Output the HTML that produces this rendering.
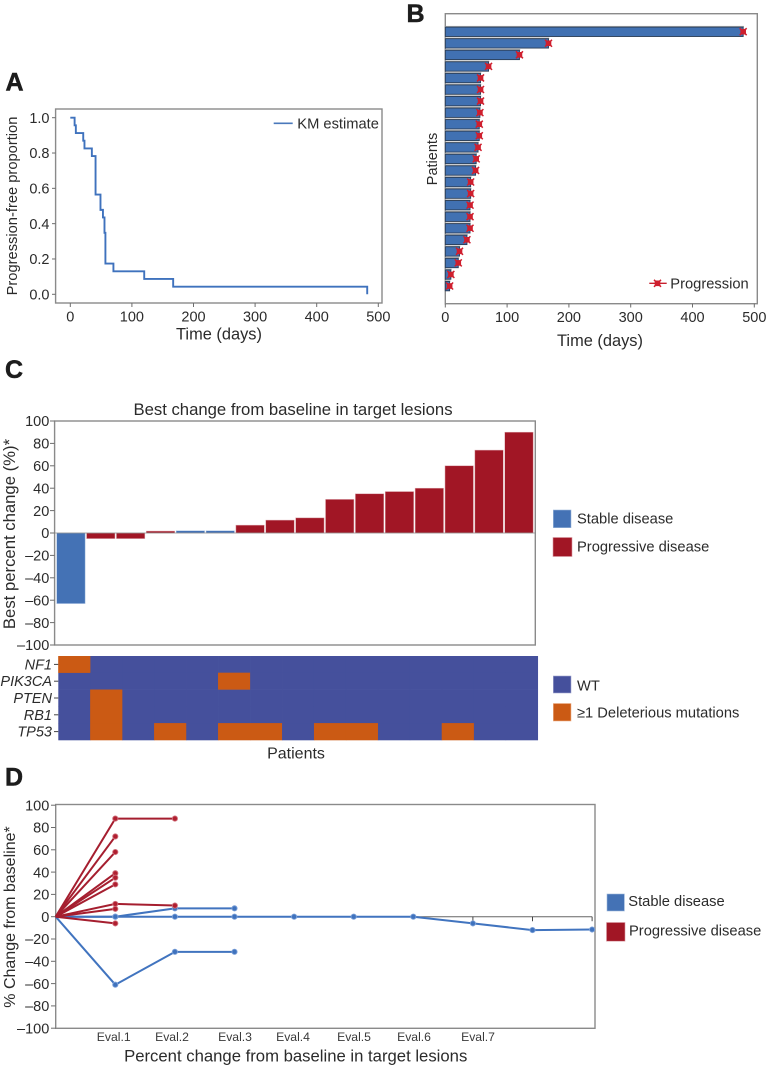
<!DOCTYPE html>
<html lang="en">
<head>
<meta charset="utf-8">
<title>Clinical outcome figure</title>
<style>
html,body{margin:0;padding:0;background:#fff;}
svg{display:block;}
text{font-family:"Liberation Sans",Arial,sans-serif;fill:#2b2b2b;font-size:14.7px;}
.tick{font-size:14.5px;}
.letter{font-size:25px;font-weight:bold;fill:#1c1c1c;stroke:#1c1c1c;stroke-width:.5px;}
.evl{font-size:12.2px;text-anchor:middle;fill:#3a3a3a;}
.frame{fill:none;stroke:#8a8a8a;stroke-width:1.4;}
</style>
</head>
<body>
<svg id="fig" xmlns="http://www.w3.org/2000/svg" width="766" height="1066" viewBox="0 0 766 1066">
  <text class="letter" x="5.5" y="90.7">A</text>
  <text class="letter" x="406.5" y="22">B</text>
  <text class="letter" x="5" y="378">C</text>
  <text class="letter" x="5" y="785.7">D</text>

  <!-- Panel A -->
  <rect class="frame" x="55.6" y="109" width="326.4" height="194"/>
  <g id="a-axes"></g>
  <g id="a-series"></g>
  <text x="219" y="339.5" text-anchor="middle" style="font-size:16.4px">Time (days)</text>
  <text transform="translate(17 206) rotate(-90)" text-anchor="middle">Progression-free proportion</text>
  <line x1="273.7" x2="292.7" y1="123.3" y2="123.3" stroke="#4a78bb" stroke-width="1.6"/>
  <text x="297.3" y="128.3">KM estimate</text>

  <!-- Panel B -->
  <rect class="frame" x="445.3" y="13.7" width="312" height="290"/>
  <g id="b-axes"></g>
  <g id="b-series"></g>
  <text x="600" y="346" text-anchor="middle" style="font-size:16.4px">Time (days)</text>
  <text transform="translate(437 159) rotate(-90)" text-anchor="middle" style="font-size:14.5px">Patients</text>
  <line x1="649.3" x2="666.7" y1="283.3" y2="283.3" stroke="#c8202e" stroke-width="1.3"/>
  <g id="b-legend-marker"></g>
  <text x="670.3" y="288.5">Progression</text>

  <!-- Panel C -->
  <text x="293" y="415" text-anchor="middle" style="font-size:16.7px">Best change from baseline in target lesions</text>
  <g id="c-series"></g>
  <rect class="frame" x="54.6" y="421" width="480.7" height="224"/>
  <g id="c-axes"></g>
  <text transform="translate(15 534) rotate(-90)" text-anchor="middle" style="font-size:16.7px">Best percent change (%)*</text>
  <rect x="553.3" y="510" width="17.7" height="17.7" fill="#4472b5" stroke="#9db8dc" stroke-width=".6"/>
  <text x="577" y="523.3">Stable disease</text>
  <rect x="553" y="537.5" width="19" height="19" fill="#a11625" stroke="#d99aa2" stroke-width=".6"/>
  <text x="577" y="551.7">Progressive disease</text>

  <!-- Heatmap -->
  <g id="h-cells"></g>
  <text x="296" y="758.5" text-anchor="middle" style="font-size:16px">Patients</text>
  <rect x="553.3" y="676" width="17.7" height="17" fill="#45509c" stroke="#a3a8d0" stroke-width=".6"/>
  <text x="577" y="690.7">WT</text>
  <rect x="553.3" y="703.5" width="17.7" height="17.5" fill="#cb5a14" stroke="#eeb48e" stroke-width=".6"/>
  <text x="577" y="717.7">≥1 Deleterious mutations</text>

  <!-- Panel D -->
  <rect class="frame" x="55.7" y="804.5" width="539.3" height="223.8"/>
  <g id="d-axes"></g>
  <g id="d-series"></g>
  <text class="evl" x="113.7" y="1041">Eval.1</text>
  <text class="evl" x="172" y="1041">Eval.2</text>
  <text class="evl" x="235" y="1041">Eval.3</text>
  <text class="evl" x="293" y="1041">Eval.4</text>
  <text class="evl" x="354" y="1041">Eval.5</text>
  <text class="evl" x="414" y="1041">Eval.6</text>
  <text class="evl" x="478" y="1041">Eval.7</text>
  <text x="295.7" y="1061.5" text-anchor="middle" style="font-size:16.7px">Percent change from baseline in target lesions</text>
  <text transform="translate(15 917) rotate(-90)" text-anchor="middle" style="font-size:16px">% Change from baseline*</text>
  <rect x="607" y="894" width="17.4" height="17" fill="#4472b5" stroke="#9db8dc" stroke-width=".6"/>
  <text x="628.3" y="906">Stable disease</text>
  <rect x="606.5" y="922.5" width="18.5" height="18.7" fill="#a11625" stroke="#d99aa2" stroke-width=".6"/>
  <text x="629" y="935.3">Progressive disease</text>
</svg>
<script>
// Panel A data
const kmTimes = [0, 7, 9, 21, 23, 35, 41, 49, 53, 55.5, 57, 70, 120, 167, 482];
const kmProportions = [1, 0.957, 0.913, 0.87, 0.826, 0.783, 0.565, 0.478, 0.435, 0.348, 0.174, 0.13, 0.087, 0.043, 0];
const kmXTicks = [0, 100, 200, 300, 400, 500];
const kmYTicks = [0, 0.2, 0.4, 0.6, 0.8, 1];

// Panel B data
const swimmerDays = [482, 167, 120, 70, 57, 57, 57, 56, 55, 55, 53, 50, 49, 41, 41, 40, 40, 40, 35, 23, 21, 9, 7];
const swimmerXTicks = [0, 100, 200, 300, 400, 500];

// Panel C data
const waterfallValues = [-63, -5, -5, 1.7, 2, 2, 7, 11.5, 13.5, 30, 35, 37, 40, 60, 74, 90];
const waterfallStatus = ['SD', 'PD', 'PD', 'PD', 'SD', 'SD', 'PD', 'PD', 'PD', 'PD', 'PD', 'PD', 'PD', 'PD', 'PD', 'PD'];
const percentTicks = [100, 80, 60, 40, 20, 0, -20, -40, -60, -80, -100];

// Heatmap data
const geneNames = ['NF1', 'PIK3CA', 'PTEN', 'RB1', 'TP53'];
const mutNF1 = [1,0,0,0,0,0,0,0,0,0,0,0,0,0,0];
const mutPIK3CA = [0,0,0,0,0,1,0,0,0,0,0,0,0,0,0];
const mutPTEN = [0,1,0,0,0,0,0,0,0,0,0,0,0,0,0];
const mutRB1 = [0,1,0,0,0,0,0,0,0,0,0,0,0,0,0];
const mutTP53 = [0,1,0,1,0,1,1,0,1,1,0,0,1,0,0];
const mutationRows = [mutNF1, mutPIK3CA, mutPTEN, mutRB1, mutTP53];

// Panel D data
const spiderPD = [[0,88,88],[0,72],[0,58],[0,39],[0,35],[0,29],[0,11.5,10],[0,7],[0,-6]];
const spiderSD = [[0,0,7.5,7.5],[0,-61,-31.5,-31.5],[0,0,0,0,0,0,0,-6,-12,-11.5]];
const spiderVisibleTicks = [7,8,9];

// Axis functions
const xA = v => 70.3 + v * 0.616;
const yA = v => 294.3 - v * 176.6;
const xB = v => 445.3 + v * 0.618;
const yB = i => 31.7 + i * 11.56;
const xC = i => 56.7 + i * 29.87;
const yC = v => 533 - v * 1.12;
const xH = i => 58.3 + i * 31.96;
const yH = i => 656 + i * 16.8;
const xD = i => 55.7 + i * 59.6;
const yD = v => 916.7 - v * 1.115;
const tickLabel = v => String(v).replace('-', '\u2013');

const NS = 'http://www.w3.org/2000/svg';
function mk(parentId, tag, props, txt) {
  const n = document.createElementNS(NS, tag);
  for (const k in props) n.setAttribute(k, props[k]);
  if (txt !== undefined) n.textContent = txt;
  document.getElementById(parentId).appendChild(n);
  return n;
}
const GR = '#6d6d6d';

// Panel A axes
kmXTicks.forEach(v => {
  const t = mk('a-axes', 'line', {x1: xA(v), x2: xA(v), y1: 303, y2: 307, stroke: GR, 'stroke-width': 1});
  
  
  const l = mk('a-axes', 'text', {x: xA(v), y: 321.3, 'text-anchor': 'middle', class: 'tick'}, String(v));
  
  
});
kmYTicks.forEach(v => {
  const t = mk('a-axes', 'line', {x1: 52, x2: 55.6, y1: yA(v), y2: yA(v), stroke: GR, 'stroke-width': 1});
  
  
  const l = mk('a-axes', 'text', {x: 49.5, y: yA(v) + 5.2, 'text-anchor': 'end', class: 'tick'}, v.toFixed(1));
  
  
});
let kmPath = 'M' + xA(kmTimes[0]) + ' ' + yA(kmProportions[0]);
for (let i = 1; i < kmTimes.length; i++) {
  kmPath += ' H' + xA(kmTimes[i]) + ' V' + yA(kmProportions[i]);
}
const kmLine = mk('a-series', 'path', {d: kmPath, fill: 'none', stroke: '#3f72bd', 'stroke-width': 1.9});



// Panel B
swimmerXTicks.forEach(v => {
  const t = mk('b-axes', 'line', {x1: xB(v), x2: xB(v), y1: 303.7, y2: 307.5, stroke: GR, 'stroke-width': 1});
  
  
  const l = mk('b-axes', 'text', {x: xB(v), y: 322, 'text-anchor': 'middle', class: 'tick'}, String(v));
  
  
});
function progressionMarker(parent, cx, cy) {
  const g = mk(parent, 'g', {});
  
  
  const b = document.createElementNS(NS, 'rect');
  b.setAttribute('x', cx - 2.8);
  b.setAttribute('y', cy - 2.8);
  b.setAttribute('width', 5.6);
  b.setAttribute('height', 5.6);
  b.setAttribute('fill', '#cf1f2e');
  g.appendChild(b);
  const c = document.createElementNS(NS, 'path');
  c.setAttribute('d', 'M' + (cx - 3.5) + ' ' + (cy - 3.5) + 'L' + (cx + 3.5) + ' ' + (cy + 3.5) + 'M' + (cx - 3.5) + ' ' + (cy + 3.5) + 'L' + (cx + 3.5) + ' ' + (cy - 3.5));
  c.setAttribute('stroke', '#cf1f2e');
  c.setAttribute('stroke-width', 1.5);
  g.appendChild(c);
}
swimmerDays.forEach((d, i) => {
  const s = mk('b-series', 'rect', {x: xB(0), y: yB(i) - 5.8, width: xB(d) - xB(0) + 0.8, height: 1.4, fill: '#b4b4b4'});
  
  
  const r = mk('b-series', 'rect', {x: xB(0), y: yB(i) - 4.6, width: xB(d) - xB(0), height: 9.4, fill: '#4171b2', stroke: '#2b3d55', 'stroke-width': 0.9});
  
  
});
swimmerDays.forEach((d, i) => progressionMarker('b-series', xB(d), yB(i)));
progressionMarker('b-legend-marker', 657.5, 283.3);

// Panel C
percentTicks.forEach(v => {
  const t = mk('c-axes', 'line', {x1: 50, x2: 54.6, y1: yC(v), y2: yC(v), stroke: GR, 'stroke-width': 1});
  
  
  const l = mk('c-axes', 'text', {x: 49.3, y: yC(v) + 5.2, 'text-anchor': 'end', class: 'tick'}, tickLabel(v));
  
  
});
const zeroC = mk('c-axes', 'line', {x1: 54.6, x2: 535.3, y1: yC(0), y2: yC(0), stroke: '#8a8a8a', 'stroke-width': 0.8});


waterfallValues.forEach((v, i) => {
  const top = yC(Math.max(v, 0));
  const h = Math.abs(yC(v) - yC(0));
  const sd = waterfallStatus[i] === 'SD';
  const r = mk('c-series', 'rect', {x: xC(i), y: top, width: 28.4, height: h, fill: sd ? '#4472b5' : '#a11625', stroke: sd ? '#a9c1e2' : '#dba3aa', 'stroke-width': 0.5});
  
  
});

// Heatmap
mutationRows.forEach((row, ri) => {
  row.forEach((m, ci) => {
    const c = mk('h-cells', 'rect', {x: xH(ci), y: yH(ri), width: 32.3, height: 17.1, fill: m ? '#cb5a14' : '#45509c'});
    
    
  });
});
// Redraw mutated cells on top so neighbours do not clip them
mutationRows.forEach((row, ri) => {
  row.forEach((m, ci) => {
    if (!m) return;
    const c = mk('h-cells', 'rect', {x: xH(ci), y: yH(ri), width: 31.96, height: 16.8, fill: '#cb5a14'});
    
    
  });
});
geneNames.forEach((g, i) => {
  const t = mk('h-cells', 'line', {x1: 54, x2: 58.3, y1: yH(i) + 8.4, y2: yH(i) + 8.4, stroke: '#444', 'stroke-width': 1});
  
  
  const l = mk('h-cells', 'text', {x: 52, y: yH(i) + 13.4, 'text-anchor': 'end', 'font-style': 'italic', class: 'tick'}, g);
  
  
});

// Panel D
percentTicks.forEach(v => {
  const t = mk('d-axes', 'line', {x1: 51, x2: 55.7, y1: yD(v), y2: yD(v), stroke: GR, 'stroke-width': 1});
  
  
  const l = mk('d-axes', 'text', {x: 49.3, y: yD(v) + 5.2, 'text-anchor': 'end', class: 'tick'}, tickLabel(v));
  
  
});
const zeroD = mk('d-axes', 'line', {x1: xD(0), x2: xD(9), y1: yD(0), y2: yD(0), stroke: '#666', 'stroke-width': 1});


spiderVisibleTicks.forEach(i => {
  const t = mk('d-axes', 'line', {x1: xD(i), x2: xD(i), y1: yD(0), y2: yD(0) + 4.5, stroke: '#333', 'stroke-width': 0.9});
  
  
});
function drawSpider(list, lineColor, dotColor, edge, name) {
  list.forEach(vals => {
    const pts = vals.map((v, i) => xD(i) + ',' + yD(v)).join(' ');
    const p = mk('d-series', 'polyline', {points: pts, fill: 'none', stroke: lineColor, 'stroke-width': 2});
    
    
  });
  list.forEach(vals => {
    vals.forEach((v, i) => {
      if (i === 0) return;
      const c = mk('d-series', 'circle', {cx: xD(i), cy: yD(v), r: 2.6, fill: dotColor, stroke: edge, 'stroke-width': 0.9});
      
      
    });
  });
}
drawSpider(spiderSD, '#4174bf', '#3f72bd', '#7ba0d8', 'stable-disease');
drawSpider(spiderPD, '#a51e2f', '#b01f30', '#d0707c', 'progressive-disease');
</script>
</body>
</html>
